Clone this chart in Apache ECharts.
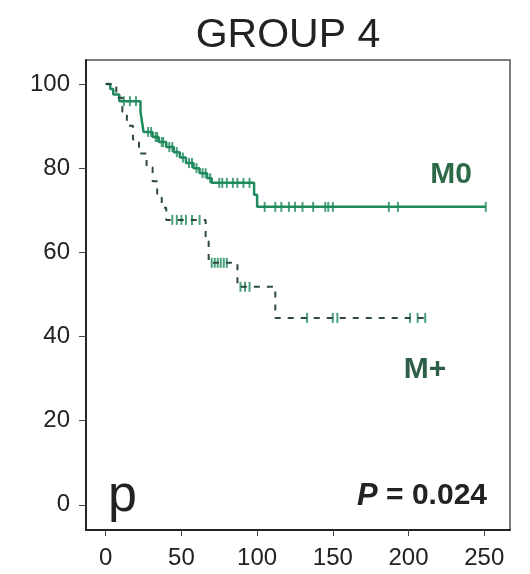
<!DOCTYPE html>
<html>
<head>
<meta charset="utf-8">
<style>
  html, body { margin: 0; padding: 0; background: #ffffff; }
  #chart { width: 530px; height: 574px; }
</style>
<script src="https://cdn.jsdelivr.net/npm/echarts@6/dist/echarts.min.js"></script>
</head>
<body>
<div id="chart"></div>
<script>
// Kaplan-Meier survival, group 4: M0 vs M+
const xTicks = [0, 50, 100, 150, 200, 250];
const yTicks = [0, 20, 40, 60, 80, 100];

// M0: event times (months) and survival (%) after each event
const m0Times = [0, 3, 5, 9, 23, 24, 25, 31, 35, 40, 45, 49, 53, 58, 62, 67, 70, 98, 100];
const m0Surv  = [100, 98.8, 97.5, 95.9, 93.4, 91.0, 88.6, 87.4, 86.2, 85.0, 83.8, 82.5, 81.2, 80.0, 78.8, 77.6, 76.5, 73.7, 70.8];
const m0End = 251;
const m0Censored = [12, 16, 20, 28, 30, 33, 34, 37, 38, 42, 44, 47, 51, 55, 57, 60, 64, 66, 69,
                    75, 77, 80, 84, 87, 91, 95, 105, 112, 116, 121, 125, 130, 137, 145, 147, 150, 187, 193, 251];

// M+: event times and survival
const mpTimes = [0, 7, 11, 14, 18, 22, 27, 31, 34, 37, 40, 66, 68, 87, 112];
const mpSurv  = [100, 96.7, 93.4, 90.1, 86.8, 83.5, 80.2, 76.9, 73.6, 70.6, 67.7, 62.6, 57.5, 51.8, 44.4];
const mpEnd = 211;
const mpCensored = [44, 47, 50, 53, 57, 62, 70, 72, 74, 76, 78, 80, 89, 92, 95, 133, 150, 153, 201, 206, 211];

function stepData(times, surv, end) {
  const d = times.map((t, i) => [t, surv[i]]);
  d.push([end, surv[surv.length - 1]]);
  return d;
}
function survAt(times, surv, t) {
  let s = surv[0];
  for (let i = 0; i < times.length; i++) { if (times[i] <= t) s = surv[i]; }
  return s;
}
function censorData(times, surv, cens) {
  return cens.map(t => [t, survAt(times, surv, t)]);
}

const FONT = 'Liberation Sans, Arial, sans-serif';
const chart = echarts.init(document.getElementById('chart'));
chart.setOption({
  animation: false,
  backgroundColor: '#ffffff',
  grid: { left: 86, right: 20, top: 60, bottom: 44, show: true, borderColor: '#555', borderWidth: 1.5, backgroundColor: 'transparent' },
  xAxis: {
    type: 'value', min: -13, max: 267,
    axisLine: { show: true, onZero: false, lineStyle: { color: '#222', width: 2 } },
    axisTick: { show: true, inside: false, length: 6, customValues: xTicks, lineStyle: { color: '#444', width: 1 } },
    axisLabel: { customValues: xTicks, fontSize: 24, color: '#222', fontFamily: FONT, margin: 16 },
    splitLine: { show: false }
  },
  yAxis: {
    type: 'value', min: -6, max: 105.7,
    axisLine: { show: true, onZero: false, lineStyle: { color: '#222', width: 2 } },
    axisTick: { show: true, inside: false, length: 7, customValues: yTicks, lineStyle: { color: '#444', width: 1 } },
    axisLabel: { customValues: yTicks, fontSize: 24, color: '#222', fontFamily: FONT, margin: 16 },
    splitLine: { show: false }
  },
  series: [
    {
      name: 'M0', type: 'line', step: 'end', symbol: 'none',
      data: stepData(m0Times, m0Surv, m0End),
      lineStyle: { color: '#1f8a5c', width: 2.5 }
    },
    {
      name: 'M0 censored', type: 'scatter', symbol: 'rect', symbolSize: [2, 10],
      data: censorData(m0Times, m0Surv, m0Censored),
      itemStyle: { color: '#1f8a5c' }
    },
    {
      name: 'M+', type: 'line', step: 'end', symbol: 'none',
      data: stepData(mpTimes, mpSurv, mpEnd),
      lineStyle: { color: '#2d4a3c', width: 2, type: [6, 7] }
    },
    {
      name: 'M+ censored', type: 'scatter', symbol: 'rect', symbolSize: [2, 10],
      data: censorData(mpTimes, mpSurv, mpCensored),
      itemStyle: { color: '#1f8a5c' }
    }
  ],
  graphic: [
    { type: 'text', x: 288, y: 36, style: { text: 'GROUP 4', font: '41px ' + FONT, fill: '#222', textAlign: 'center', textVerticalAlign: 'middle' } },
    { type: 'text', x: 451, y: 175, style: { text: 'M0', font: 'bold 30px ' + FONT, fill: '#2e6a48', textAlign: 'center', textVerticalAlign: 'middle' } },
    { type: 'text', x: 425, y: 370, style: { text: 'M+', font: 'bold 30px ' + FONT, fill: '#2e5e48', textAlign: 'center', textVerticalAlign: 'middle' } },
    { type: 'text', x: 108, y: 497, style: { text: 'p', font: '52px ' + FONT, fill: '#222', textAlign: 'left', textVerticalAlign: 'middle' } },
    { type: 'text', x: 487, y: 496, style: {
        text: '{i|P}{b| = 0.024}', textAlign: 'right', textVerticalAlign: 'middle',
        rich: {
          i: { font: 'italic bold 31px ' + FONT, fill: '#222' },
          b: { font: 'bold 30px ' + FONT, fill: '#222' }
        }
      } }
  ]
});
</script>
</body>
</html>
